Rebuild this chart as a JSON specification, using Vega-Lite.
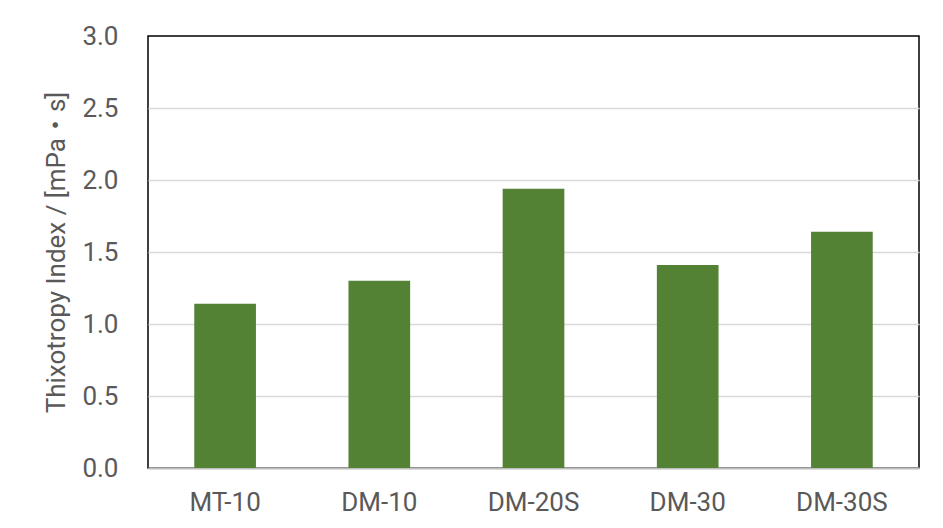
{
  "$schema": "https://vega.github.io/schema/vega-lite/v6.json",
  "autosize": {"type": "none"},
  "padding": {"left": 148, "top": 36, "right": 24, "bottom": 60},
  "width": 771,
  "height": 432,
  "background": "#ffffff",
  "config": {
    "font": "Roboto, 'Noto Sans CJK JP', sans-serif",
    "view": {"stroke": "#000000", "strokeWidth": 1.5}
  },
  "data": {
    "values": [
      {"sample": "MT-10", "index": 1.14},
      {"sample": "DM-10", "index": 1.30},
      {"sample": "DM-20S", "index": 1.94},
      {"sample": "DM-30", "index": 1.41},
      {"sample": "DM-30S", "index": 1.64}
    ]
  },
  "mark": {"type": "bar", "color": "#548235"},
  "encoding": {
    "x": {
      "field": "sample",
      "type": "nominal",
      "sort": null,
      "scale": {"paddingInner": 0.6, "paddingOuter": 0.3},
      "axis": {
        "title": null,
        "labelAngle": 0,
        "labelFontSize": 26,
        "labelColor": "#595959",
        "labelPadding": 21,
        "ticks": false,
        "tickSize": 0,
        "domainColor": "#bfbfbf",
        "domainWidth": 2
      }
    },
    "y": {
      "field": "index",
      "type": "quantitative",
      "scale": {"domain": [0, 3], "nice": false},
      "axis": {
        "title": "Thixotropy Index / [mPa・s]",
        "titleFontSize": 26,
        "titleFontWeight": "normal",
        "titleColor": "#595959",
        "titlePadding": 12,
        "values": [0, 0.5, 1, 1.5, 2, 2.5, 3],
        "format": ".1f",
        "labelFontSize": 26,
        "labelColor": "#595959",
        "labelPadding": 30,
        "ticks": false,
        "tickSize": 0,
        "domain": false,
        "gridColor": {
          "condition": {"test": "datum.value >= 3", "value": "transparent"},
          "value": "#d9d9d9"
        },
        "gridWidth": 1.5
      }
    }
  }
}
